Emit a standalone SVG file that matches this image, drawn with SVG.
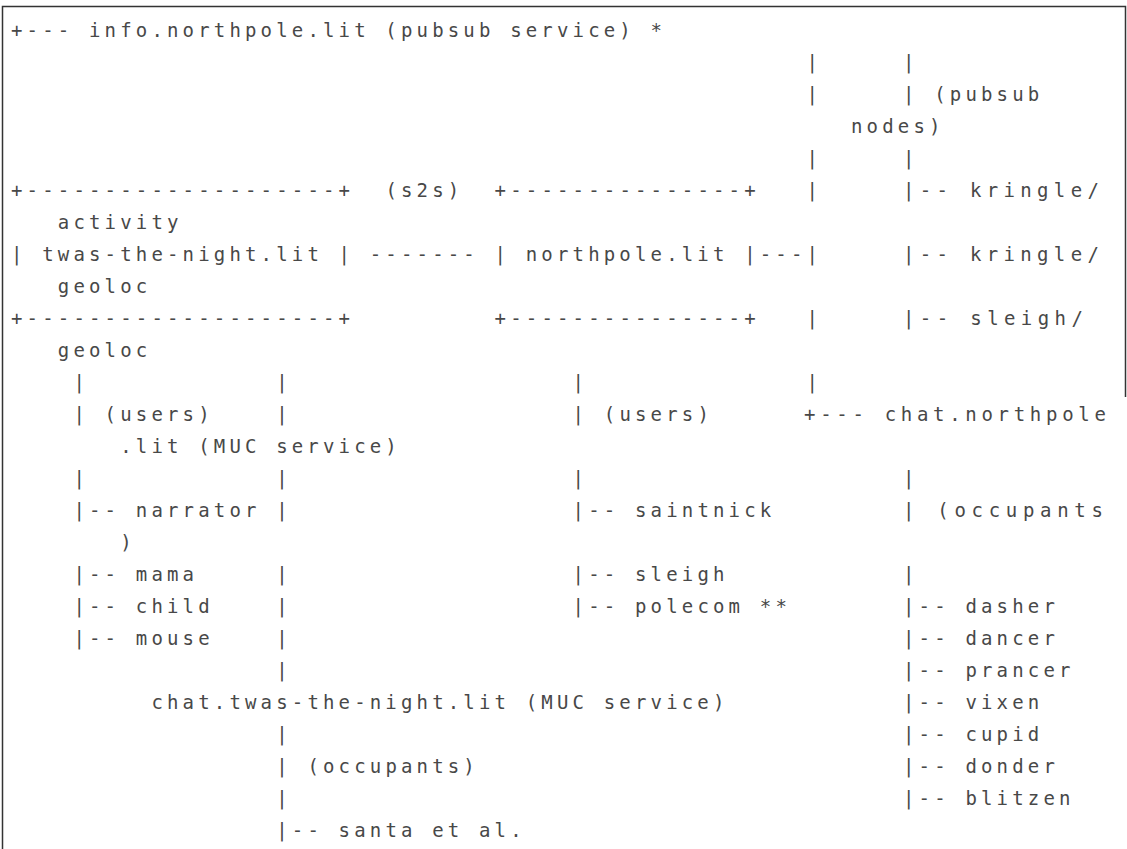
<svg xmlns="http://www.w3.org/2000/svg" width="1127" height="849" viewBox="0 0 1127 849">
<style>
text{font-family:"DejaVu Sans Mono","Liberation Mono",monospace;font-size:19px;letter-spacing:4.16px;fill:#484848;white-space:pre}
.b{fill:none;stroke:#333;stroke-width:1.5}
</style>
<rect width="1127" height="849" fill="#fff"/>
<path class="b" d="M2.5,849 V6.5 H1125.5 V397"/>
<g id="rows" xml:space="preserve">
<text x="11" y="37">+--- info.northpole.lit (pubsub service) *</text>
<text x="806.6" y="69">|</text><text x="903" y="69">|</text>
<text x="806.6" y="101">|</text><text x="903" y="101">| (pubsub</text>
<text x="851" y="133">nodes)</text>
<text x="806.6" y="165">|</text><text x="903" y="165">|</text>
<text x="11" y="197">+--------------------+</text><text x="385.4" y="197">(s2s)</text><text x="494.6" y="197">+---------------+</text><text x="806.6" y="197">|</text><text x="903" y="197" textLength="200" lengthAdjust="spacing">|-- kringle/</text>
<text x="57.8" y="229">activity</text>
<text x="11" y="261">| twas-the-night.lit | ------- | northpole.lit |---|</text><text x="903" y="261" textLength="200" lengthAdjust="spacing">|-- kringle/</text>
<text x="57.8" y="293">geoloc</text>
<text x="11" y="325">+--------------------+</text><text x="494.6" y="325">+---------------+</text><text x="806.6" y="325">|</text><text x="903" y="325" textLength="184" lengthAdjust="spacing">|-- sleigh/</text>
<text x="57.8" y="357">geoloc</text>
<text x="73.4" y="389">|</text><text x="276.2" y="389">|</text><text x="572.6" y="389">|</text><text x="806.6" y="389">|</text>
<text x="73.4" y="421">| (users)</text><text x="276.2" y="421">|</text><text x="572.6" y="421">| (users)</text><text x="804" y="421" textLength="306" lengthAdjust="spacing">+--- chat.northpole</text>
<text x="120.2" y="453">.lit (MUC service)</text>
<text x="73.4" y="485">|</text><text x="276.2" y="485">|</text><text x="572.6" y="485">|</text><text x="903" y="485">|</text>
<text x="73.4" y="517">|-- narrator</text><text x="276.2" y="517">|</text><text x="572.6" y="517">|-- saintnick</text><text x="903" y="517" textLength="204" lengthAdjust="spacing">| (occupants</text>
<text x="120.2" y="549">)</text>
<text x="73.4" y="581">|-- mama</text><text x="276.2" y="581">|</text><text x="572.6" y="581">|-- sleigh</text><text x="903" y="581">|</text>
<text x="73.4" y="613">|-- child</text><text x="276.2" y="613">|</text><text x="572.6" y="613">|-- polecom **</text><text x="903" y="613">|-- dasher</text>
<text x="73.4" y="645">|-- mouse</text><text x="276.2" y="645">|</text><text x="903" y="645">|-- dancer</text>
<text x="276.2" y="677">|</text><text x="903" y="677">|-- prancer</text>
<text x="151.4" y="709">chat.twas-the-night.lit (MUC service)</text><text x="903" y="709">|-- vixen</text>
<text x="276.2" y="741">|</text><text x="903" y="741">|-- cupid</text>
<text x="276.2" y="773">| (occupants)</text><text x="903" y="773">|-- donder</text>
<text x="276.2" y="805">|</text><text x="903" y="805">|-- blitzen</text>
<text x="276.2" y="837">|-- santa et al.</text>
</g>
</svg>
